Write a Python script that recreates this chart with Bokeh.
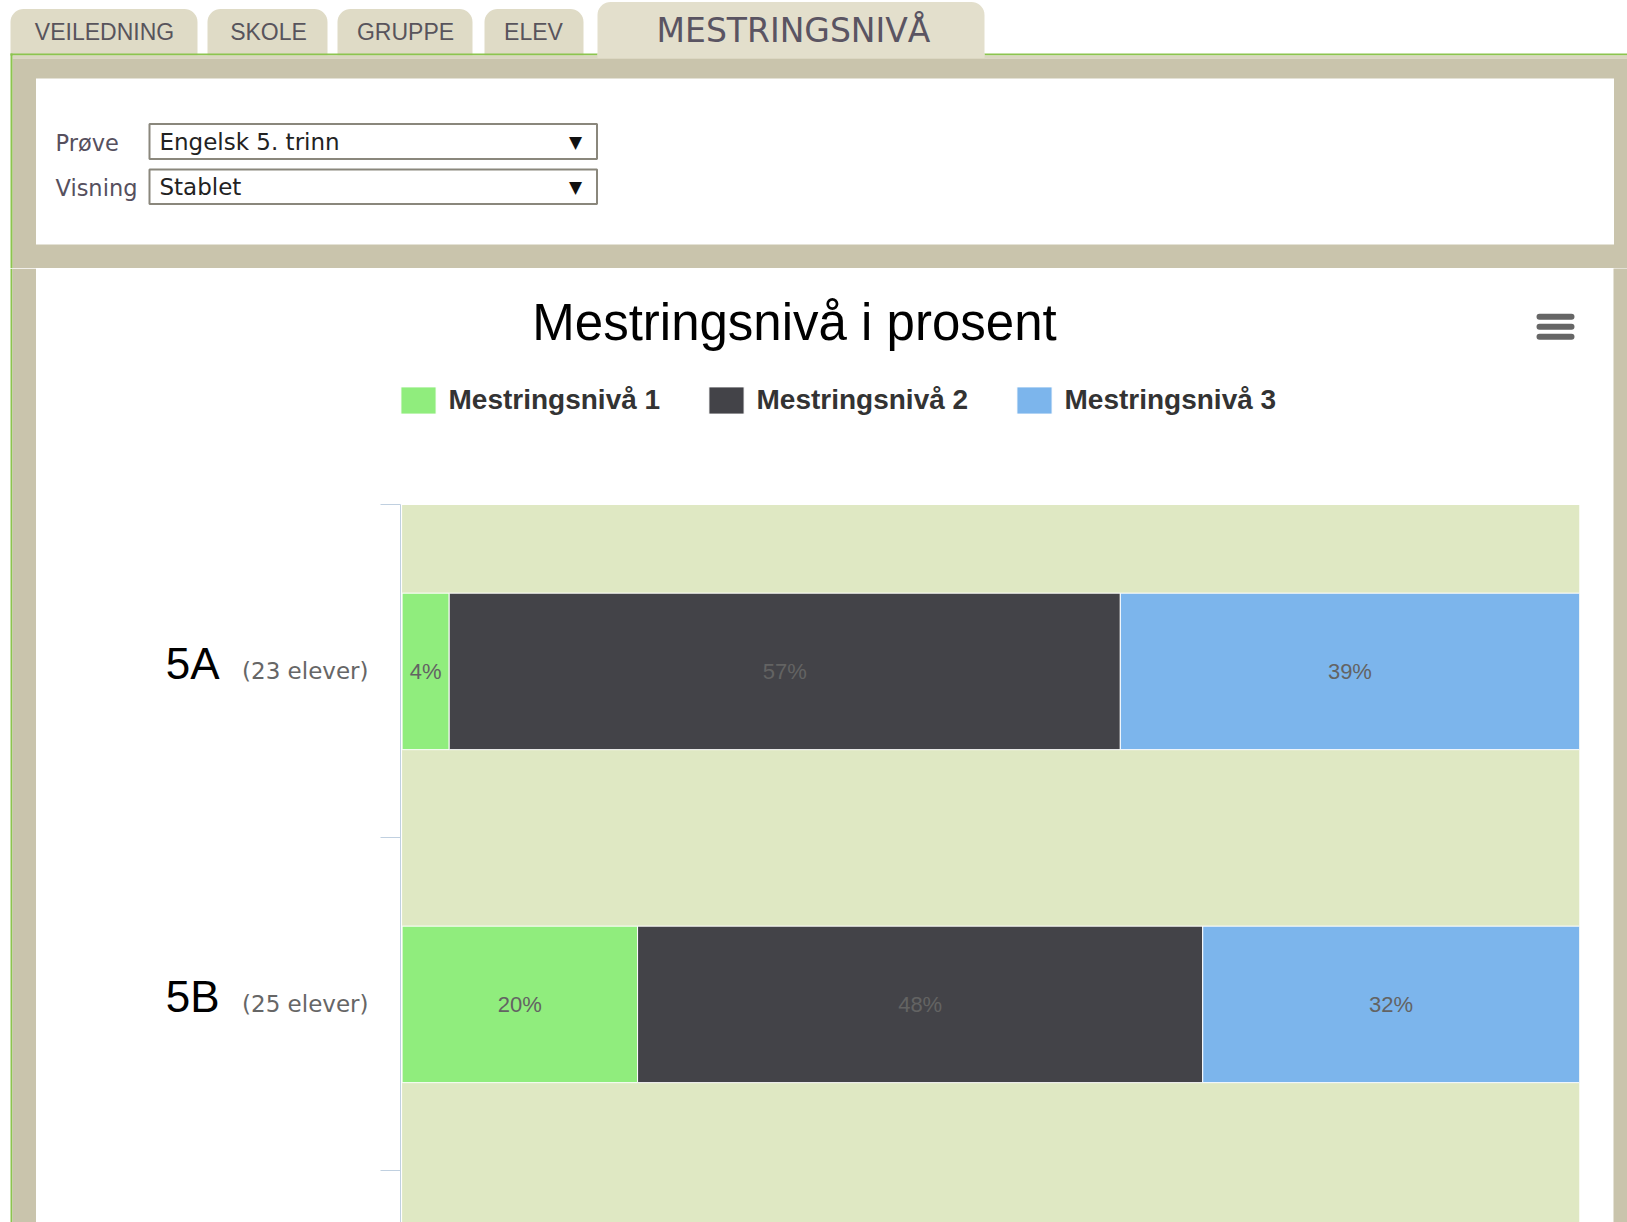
import numpy as np
from bokeh.plotting import figure
from bokeh.layouts import column, row
from bokeh.models import (Range1d, LinearAxis, FixedTicker, Legend, LegendItem,
                          Label, BoxAnnotation, ColumnDataSource)
from bokeh.core.properties import value
from bokeh.embed import file_html
from bokeh.resources import INLINE

# ---------------- data ----------------
classes = ["5A", "5B"]
class_sizes = ["(23 elever)", "(25 elever)"]
series_names = ["Mestringsnivå 1", "Mestringsnivå 2", "Mestringsnivå 3"]
niva1 = [4, 20]
niva2 = [57, 48]
niva3 = [39, 32]
chart_title = "Mestringsnivå i prosent"
tab_names = ["VEILEDNING", "SKOLE", "GRUPPE", "ELEV", "MESTRINGSNIVÅ"]
filter_labels = ["Prøve", "Visning"]
filter_values = ["Engelsk 5. trinn", "Stablet"]

# ---------------- styles ----------------
series_colors = ["#90ED7D", "#434348", "#7CB5EC"]
TAN = "#C9C4AC"
GREEN = "#8CC44F"
TAB_FILL = "#DFDBC6"
TAB_ACTIVE = "#E3DFCC"
PLOT_BG = "#DFE8C3"
W = 1627
TOP_H = 268
BOT_H = 954


def blank(fig, bg="white"):
    fig.grid.visible = False
    fig.outline_line_color = None
    fig.background_fill_color = bg
    fig.border_fill_color = bg


# ---------------- top (tabs + filters) ----------------
top = figure(width=W, height=TOP_H, x_range=Range1d(0, W), y_range=Range1d(TOP_H, 0),
             output_backend="svg", toolbar_location=None, min_border=0,
             x_axis_location=None, y_axis_location=None)
blank(top)


def tab_shape(x0, x1, y0, y1, r):
    t = np.linspace(0, np.pi / 2, 10)
    lx = x0 + r - r * np.cos(t)
    ly = y0 + r - r * np.sin(t)
    rx = x1 - r + r * np.sin(t)
    ry = y0 + r - r * np.cos(t)
    xs = [x0] + list(lx) + list(rx) + [x1]
    ys = [y1] + list(ly) + list(ry) + [y1]
    return xs, ys


tab_geom = [(10, 197, 8.5, 55), (207, 327, 8.5, 55), (337, 472, 8.5, 55),
            (484, 583, 8.5, 55), (597, 984, 1.5, 60)]
txs, tys, tfill = [], [], []
for i, (x0, x1, y0, y1) in enumerate(tab_geom):
    xs, ys = tab_shape(x0, x1, y0, y1, 13)
    txs.append(xs)
    tys.append(ys)
    tfill.append(TAB_ACTIVE if i == len(tab_geom) - 1 else TAB_FILL)
top.patches(txs, tys, fill_color=tfill, line_color=None)

# green line + frame
top.quad(left=[10, 984], right=[597, W], top=[53, 53], bottom=[55, 55],
         fill_color=GREEN, line_color=None)
top.quad(left=[12], right=[W], top=[55], bottom=[58], fill_color="#DAD6C0", line_color=None)
top.quad(left=[12], right=[W], top=[58], bottom=[TOP_H], fill_color=TAN, line_color=None)
top.quad(left=[597], right=[984], top=[53], bottom=[58], fill_color=TAB_ACTIVE, line_color=None)
top.quad(left=[10], right=[12], top=[53], bottom=[TOP_H], fill_color=GREEN, line_color=None)
top.quad(left=[35.5], right=[1613.5], top=[78], bottom=[244], fill_color="white", line_color=None)

# tab labels
tab_cx = [104, 268, 405, 533]
top.text(x=tab_cx, y=[31] * 4, text=tab_names[:4], text_align="center", text_baseline="middle",
         text_font=value("Liberation Sans"), text_font_size="23px", text_color="#58545c")
top.text(x=[793], y=[30], text=[tab_names[4]], text_align="center", text_baseline="middle",
         text_font=value("DejaVu Sans"), text_font_size="33px", text_color="#5a5462")

# filters
fy = [142, 187]
top.text(x=[55, 55], y=fy, text=filter_labels, text_align="left", text_baseline="middle",
         text_font=value("DejaVu Sans"), text_font_size="22.5px", text_color="#56505e")
top.quad(left=[149, 149], right=[596.5, 596.5], top=[123.5, 169], bottom=[158.5, 203.5],
         fill_color="white", line_color="#8a877c", line_width=2)
top.text(x=[159, 159], y=[141.5, 186.5], text=filter_values, text_align="left", text_baseline="middle",
         text_font=value("DejaVu Sans"), text_font_size="23px", text_color="#222222")
top.text(x=[575, 575], y=[141, 186], text=["▼", "▼"], text_align="center", text_baseline="middle",
         text_font=value("DejaVu Sans"), text_font_size="17px", text_color="#111111")

# ---------------- side strips ----------------
left_strip = figure(width=36, height=BOT_H, x_range=Range1d(0, 36), y_range=Range1d(BOT_H, 0),
                    output_backend="svg", toolbar_location=None, min_border=0,
                    x_axis_location=None, y_axis_location=None)
blank(left_strip)
left_strip.quad(left=[10], right=[12], top=[0], bottom=[BOT_H], fill_color=GREEN, line_color=None)
left_strip.quad(left=[12], right=[35.5], top=[0], bottom=[BOT_H], fill_color=TAN, line_color=None)

right_strip = figure(width=14, height=BOT_H, x_range=Range1d(0, 14), y_range=Range1d(BOT_H, 0),
                     output_backend="svg", toolbar_location=None, min_border=0,
                     x_axis_location=None, y_axis_location=None)
blank(right_strip, TAN)

# ---------------- chart ----------------
ys = list(range(len(classes)))
bounds = [i - 0.5 for i in range(len(classes) + 1)]
src = ColumnDataSource(dict(y=ys, n1=niva1, n2=niva2, n3=niva3))

Y_BOTTOM = 1.655
p = figure(width=1577, height=BOT_H, x_range=Range1d(-0.136, 100),
           y_range=Range1d(Y_BOTTOM, -1.21),
           output_backend="svg", toolbar_location=None,
           min_border_left=364, min_border_right=34, min_border_top=0, min_border_bottom=0,
           x_axis_location=None, y_axis_location=None)
blank(p)

# plot area background band
p.quad(left=[0], right=[100], top=[bounds[0]], bottom=[Y_BOTTOM], fill_color=PLOT_BG,
       line_color=None)

rends = p.hbar_stack(["n1", "n2", "n3"], y="y", height=0.47, color=series_colors,
                     line_color="white", line_width=1, source=src)

# data labels
lx, ly, lt = [], [], []
for i in range(len(classes)):
    left = 0
    for vals in (niva1, niva2, niva3):
        v = vals[i]
        lx.append(left + v / 2)
        ly.append(ys[i])
        lt.append(f"{v}%")
        left += v
p.text(x=lx, y=ly, text=lt, text_align="center", text_baseline="middle",
       text_font=value("Liberation Sans"), text_font_size="22px", text_color="#636363")

# category axes
LABEL_SHIFT = 0.024
ax1 = LinearAxis(ticker=FixedTicker(ticks=ys, minor_ticks=bounds), bounds=(bounds[0], Y_BOTTOM),
                 major_label_overrides={i: s for i, s in zip(ys, class_sizes)},
                 axis_line_color="#C0D0E0", axis_line_width=1,
                 major_tick_line_color=None, major_tick_out=0, major_tick_in=0,
                 minor_tick_out=20, minor_tick_in=0, minor_tick_line_color="#C0D0E0",
                 major_label_standoff=12, major_label_text_font="DejaVu Sans",
                 major_label_text_font_size="23px", major_label_text_color="#666666")
ax2_ticks = [y - LABEL_SHIFT for y in ys]
ax2 = LinearAxis(ticker=FixedTicker(ticks=ax2_ticks), bounds=(bounds[0], Y_BOTTOM),
                 major_label_overrides={t: s for t, s in zip(ax2_ticks, classes)},
                 axis_line_color=None, major_tick_line_color=None, minor_tick_line_color=None,
                 major_tick_out=0, major_tick_in=0, minor_tick_out=0, minor_tick_in=0,
                 major_label_standoff=20, major_label_text_font="Liberation Sans",
                 major_label_text_font_size="44px", major_label_text_color="#000000")
p.add_layout(ax1, "left")
p.add_layout(ax2, "left")

legend = Legend(items=[LegendItem(label=n, renderers=[r]) for n, r in zip(series_names, rends)],
                orientation="horizontal", location=(-4.5, 805.5), padding=0, margin=0,
                spacing=25, glyph_width=44, glyph_height=34, label_standoff=9,
                label_width=230, label_height=34,
                label_text_font="Liberation Sans", label_text_font_size="28px",
                label_text_font_style="bold", label_text_color="#333333",
                border_line_color=None, background_fill_alpha=0)
p.add_layout(legend)

p.add_layout(Label(x=394, y=900, x_units="screen", y_units="screen", text=chart_title,
                   text_align="center", text_baseline="middle", text_font="Liberation Sans",
                   text_font_size="51px", text_color="#000000"))

# export-menu button (three bars)
for bar_top in (908.7, 898.7, 888.7):
    p.add_layout(BoxAnnotation(left=1136, right=1174, top=bar_top, bottom=bar_top - 6,
                               left_units="screen", right_units="screen",
                               top_units="screen", bottom_units="screen",
                               fill_color="#666666", fill_alpha=1, line_color=None,
                               border_radius=3))

layout = column(top, row(left_strip, p, right_strip, spacing=0), spacing=0)

open("out.html", "w").write(file_html(layout, INLINE))
